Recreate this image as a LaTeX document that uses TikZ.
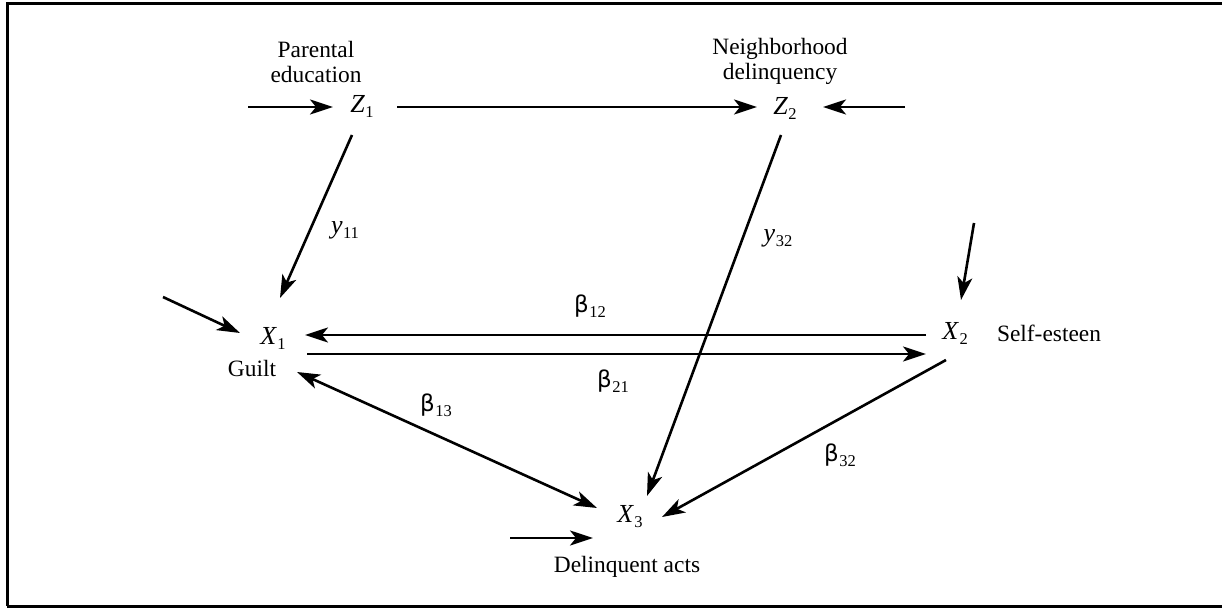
\documentclass[tikz,border=0pt]{standalone}
\usepackage{fontspec}
\setmainfont{Liberation Serif}
\newfontfamily\grk{DejaVu Sans}
\usetikzlibrary{arrows.meta,calc}
\tikzset{
  tip/.tip={Stealth[length=23pt,width=15pt,inset=6pt]},
  conn/.style={line width=2.6pt,-tip},
  dconn/.style={line width=2.6pt,tip-tip},
  var/.style={inner sep=0pt,font=\fontsize{26}{30}\selectfont},
  lab/.style={inner sep=0pt,align=center,font=\fontsize{23.4}{25}\selectfont},
  coef/.style={inner sep=0pt,font=\fontsize{26}{30}\selectfont},
}
\newcommand{\sbs}[2]{#1\kern0.5pt\raisebox{-5pt}{\fontsize{16.5}{17}\selectfont #2}}
\newcommand{\vr}[2]{\sbs{\textit{#1}}{#2}}
\newcommand{\bt}[1]{\sbs{{\grk\fontsize{23}{26}\selectfont β}}{#1}}
\begin{document}
\begin{tikzpicture}[x=1pt,y=-1pt]
\useasboundingbox (0,0) rectangle (1222,609);
\draw[line width=3pt] (7,606) -- (7,3.5) -- (1222,3.5);
\draw[line width=3pt] (7,606) -- (1222,606);
% variables
\node[var] (Z1) at (362,106) {\vr{Z}{1}};
\node[var] (Z2) at (785,108) {\vr{Z}{2}};
\node[var] (X1) at (273,338) {\vr{X}{1}};
\node[var] (X2) at (955,333) {\vr{X}{2}};
\node[var] (X3) at (630,517) {\vr{X}{3}};
% labels
\node[lab] (lZ1) at (316,62) {Parental\\education};
\node[lab] (lZ2) at (780,61) {Neighborhood\\delinquency};
\node[lab] (lX1) at (252,368) {Guilt};
\node[lab] (lX2) at (1049,333) {Self-esteen};
\node[lab] (lX3) at (627,567) {Delinquent acts};
% coefficients
\node[coef] (g11) at (345,230) {\vr{y}{11}};
\node[coef] (g32) at (778,238) {\vr{y}{32}};
\node[coef] (b12) at (590,306) {\bt{12}};
\node[coef] (b21) at (613,381) {\bt{21}};
\node[coef] (b13) at (436,405) {\bt{13}};
\node[coef] (b32) at (840,455) {\bt{32}};
% free ends
\coordinate (eZ1) at (248,107);
\coordinate (eZ2) at (905,107);
\coordinate (eX1) at (163,297);
\coordinate (eX2) at (974,223);
\coordinate (eX3) at (510,538);
% connectors
\draw[conn] (eZ1) -- ($(Z1)+(-29,1)$);
\draw[conn] ($(Z1)+(35,1)$) -- ($(Z2)+(-28,-1)$);
\draw[conn] (eZ2) -- ($(Z2)+(38,-1)$);
\draw[conn] ($(Z1)+(-10,29)$) -- ($(X1)+(7,-40)$);
\draw[conn] ($(Z2)+(-4,27)$) -- ($(X3)+(17,-21)$);
\draw[conn] (eX1) -- ($(X1)+(-33,-5)$);
\draw[conn] ($(X2)+(-29,2)$) -- ($(X1)+(32,-3)$);
\draw[conn] ($(X1)+(34,16)$) -- ($(X2)+(-29,21)$);
\draw[conn] (eX2) -- ($(X2)+(6,-33)$);
\draw[dconn] ($(X1)+(24,34)$) -- ($(X3)+(-33,-9)$);
\draw[conn] ($(X2)+(-9,27)$) -- ($(X3)+(32,0)$);
\draw[conn] (eX3) -- ($(X3)+(-37,21)$);
\end{tikzpicture}
\end{document}
